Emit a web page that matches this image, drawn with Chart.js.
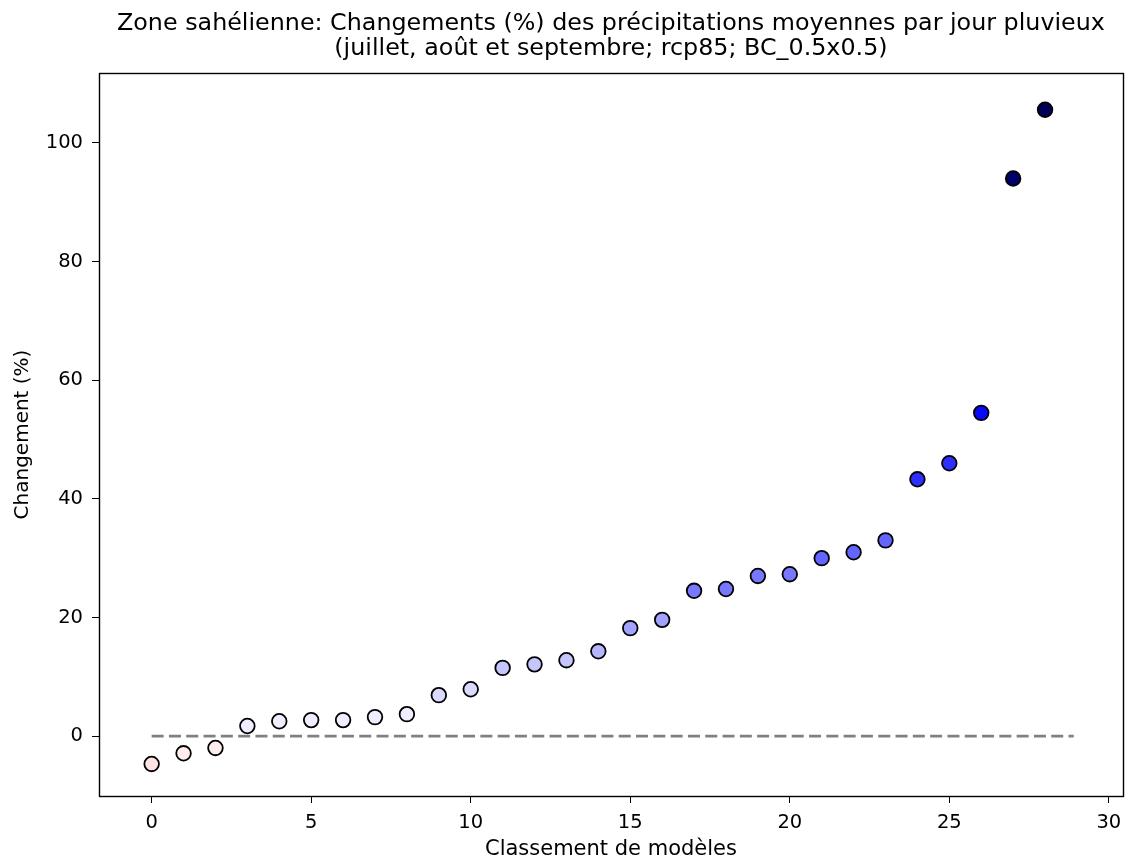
<!DOCTYPE html>
<html>
<head>
<meta charset="utf-8">
<script src="https://cdn.jsdelivr.net/npm/chart.js@4"></script>
<style>
  html, body { margin: 0; padding: 0; background: #ffffff; }
  #wrap { width: 1132px; height: 861px; }
</style>
</head>
<body>
<div id="wrap"><canvas id="c" width="1132" height="861"></canvas></div>
<script>
const titleLines = [
  "Zone sahélienne: Changements (%) des précipitations moyennes par jour pluvieux",
  "(juillet, août et septembre; rcp85; BC_0.5x0.5)"
];
const xLabel = "Classement de modèles";
const yLabel = "Changement (%)";

const ranks = [0,1,2,3,4,5,6,7,8,9,10,11,12,13,14,15,16,17,18,19,20,21,22,23,24,25,26,27,28];
const changes = [-4.7,-2.9,-2.0,1.7,2.5,2.7,2.7,3.2,3.7,6.9,7.9,11.5,12.1,12.8,14.3,18.2,19.6,24.5,24.8,27.0,27.3,30.0,31.0,33.0,43.3,46.0,54.5,94.0,105.6];
const pointColors = [
  "#ffe2e2","#ffecec","#ffecec",
  "#eeeeff","#eeeeff","#eeeeff","#eeeeff","#eeeeff","#eeeeff",
  "#dadaff","#dadaff",
  "#c6c6ff","#c6c6ff","#c6c6ff","#b6b6ff",
  "#a2a2ff","#a2a2ff",
  "#7878ff","#7878ff","#7878ff","#7878ff",
  "#6464ff","#6464ff","#6464ff",
  "#2e2eff","#2e2eff",
  "#0808ff",
  "#00006a","#000058"
];
const zeroLineX = [0, 28.9];
const zeroLineY = [0, 0];
const xTicks = [0,5,10,15,20,25,30];
const yTicks = [0,20,40,60,80,100];

const FONT = "'DejaVu Sans', sans-serif";

const framePlugin = {
  id: 'frame',
  afterDatasetsDraw(chart) {
    const a = chart.chartArea, ctx = chart.ctx;
    ctx.save();
    ctx.strokeStyle = '#000';
    ctx.lineWidth = 1.4;
    ctx.strokeRect(Math.round(a.left) + 0.5, Math.round(a.top) + 0.5,
                   Math.round(a.right - a.left), Math.round(a.bottom - a.top));
    ctx.restore();
  }
};

new Chart(document.getElementById('c'), {
  type: 'scatter',
  data: {
    datasets: [
      {
        type: 'line',
        data: zeroLineX.map((x, i) => ({x: x, y: zeroLineY[i]})),
        borderColor: '#808080',
        borderWidth: 2.8,
        borderDash: [12, 5.3],
        pointRadius: 0,
        fill: false,
        order: 2
      },
      {
        data: ranks.map((r, i) => ({x: r, y: changes[i]})),
        backgroundColor: pointColors,
        borderColor: '#000000',
        borderWidth: 1.8,
        pointRadius: 7.3,
        pointHoverRadius: 7.3,
        order: 1
      }
    ]
  },
  options: {
    responsive: false,
    animation: false,
    events: [],
    layout: { padding: { top: 0, right: 3, bottom: 0, left: 0 } },
    plugins: {
      legend: { display: false },
      tooltip: { enabled: false },
      title: {
        display: true,
        fullSize: false,
        text: titleLines,
        color: '#000',
        font: { family: FONT, size: 23.8, weight: 'normal', lineHeight: 24.5/23.8 },
        padding: { top: 12, bottom: 12 }
      }
    },
    scales: {
      x: {
        type: 'linear',
        min: -1.65,
        max: 30.44,
        afterFit(s) { s.height = 65; },
        afterBuildTicks(s) { s.ticks = xTicks.map(v => ({value: v})); },
        grid: { display: true, drawOnChartArea: false, drawTicks: true, tickLength: 7, color: '#000', lineWidth: 1 },
        border: { display: true, color: '#000', width: 1 },
        ticks: { color: '#000', font: { family: FONT, size: 19.5 }, padding: 8, maxRotation: 0, autoSkip: false },
        title: { display: true, text: xLabel, color: '#000', font: { family: FONT, size: 21, lineHeight: 1.1 }, padding: { top: 0, bottom: 0 } }
      },
      y: {
        type: 'linear',
        min: -10.1,
        max: 111.8,
        afterFit(s) { s.width = 99; },
        afterBuildTicks(s) { s.ticks = yTicks.map(v => ({value: v})); },
        grid: { display: true, drawOnChartArea: false, drawTicks: true, tickLength: 7, color: '#000', lineWidth: 1 },
        border: { display: true, color: '#000', width: 1 },
        ticks: { color: '#000', font: { family: FONT, size: 19.5 }, padding: 9, autoSkip: false },
        title: { display: true, text: yLabel, color: '#000', font: { family: FONT, size: 20 }, padding: { top: 10.5, bottom: 0 } }
      }
    }
  },
  plugins: [framePlugin]
});
</script>
</body>
</html>
